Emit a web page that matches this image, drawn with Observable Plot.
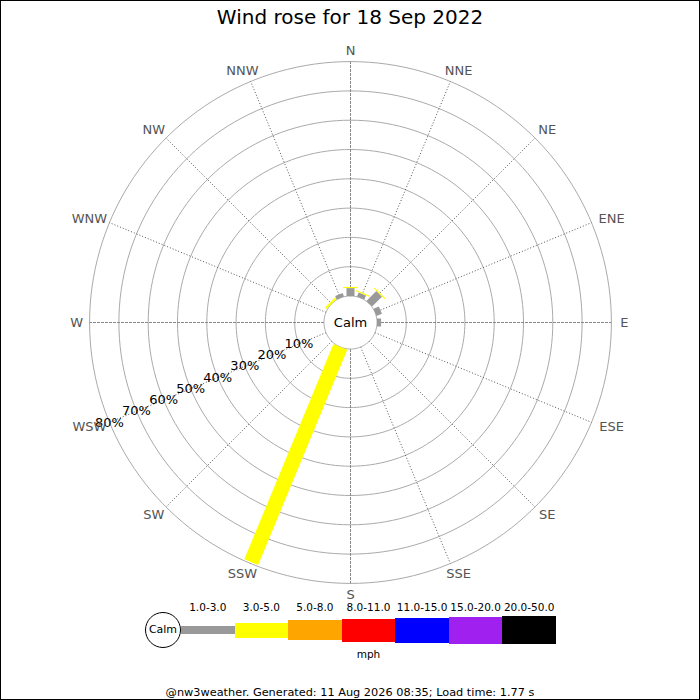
<!DOCTYPE html>
<html>
<head>
<meta charset="utf-8">
<script src="https://cdn.jsdelivr.net/npm/d3@7"></script>
<script src="https://cdn.jsdelivr.net/npm/@observablehq/plot@0.6"></script>
<style>
  html, body { margin: 0; padding: 0; background: #fff; }
  #wrap { position: relative; width: 700px; height: 700px; overflow: hidden; font-family: "DejaVu Sans", sans-serif; background: #fff; }
  #frame { position: absolute; left: 0; top: 0; width: 700px; height: 700px; box-sizing: border-box; border: 1px solid #000; pointer-events: none; }
  #title { position: absolute; left: 0; top: 4px; width: 700px; text-align: center; font-size: 20px; line-height: 26px; color: #000; }
  #chart { position: absolute; left: 0; top: 35px; }
  #chart svg { overflow: visible; }
  .lg { position: absolute; }
  .lgLabel { position: absolute; font-size: 10.5px; color: #000; text-align: center; line-height: 12px; }
  #footer { position: absolute; left: 0; width: 700px; top: 686px; text-align: center; font-size: 11.3px; line-height: 14px; color: #000; }
</style>
</head>
<body>
<div id="wrap">
  <div id="title"></div>
  <div id="chart"></div>
  <div id="legend"></div>
  <div id="footer"></div>
  <div id="frame"></div>
</div>
<script>
// ---- data ----
const title = "Wind rose for 18 Sep 2022";
const footer = "@nw3weather. Generated: 11 Aug 2026 08:35; Load time: 1.77 s";
const directions = ["N","NNE","NE","ENE","E","ESE","SE","SSE","S","SSW","SW","WSW","W","WNW","NW","NNW"];
const speedBins = ["1.0-3.0","3.0-5.0","5.0-8.0","8.0-11.0","11.0-15.0","15.0-20.0","20.0-50.0"];
const speedUnit = "mph";
const ringValues = [10, 20, 30, 40, 50, 60, 70, 80];
// percent of time per direction, per speed bin
const bin1to3   = [2.7, 1.5, 4.8, 2.0, 1.4, 0, 0, 0, 0, 0,    0, 0, 0, 0, 0,   1.3];
const bin3to5   = [0.4, 0.4, 0.4, 0,   0,   0, 0, 0, 0, 79.5, 0, 0, 0, 0, 0.7, 0];
const bin5to8   = [0,0,0,0,0,0,0,0,0,0,0,0,0,0,0,0];
const bin8to11  = [0,0,0,0,0,0,0,0,0,0,0,0,0,0,0,0];
const bin11to15 = [0,0,0,0,0,0,0,0,0,0,0,0,0,0,0,0];
const bin15to20 = [0,0,0,0,0,0,0,0,0,0,0,0,0,0,0,0];
const bin20to50 = [0,0,0,0,0,0,0,0,0,0,0,0,0,0,0,0];

// ---- styles ----
const binColors = ["#999999", "#ffff00", "#ffa500", "#ff0000", "#0000ff", "#a020f0", "#000000"];
const binWidths = [8, 15, 20, 23, 25, 27, 28];
const FONT = "DejaVu Sans";

const bins = [bin1to3, bin3to5, bin5to8, bin8to11, bin11to15, bin15to20, bin20to50];

// ---- geometry (in percent units) ----
const k = 2.93;              // px per percent
const calmU = 26.5 / k;      // calm circle radius in percent units
const maxU = calmU + d3.max(ringValues);
const labelU = maxU + 8.5 / k;   // label box edge sits just outside the outer ring
const W = 700, H = 580, cy = 287;
const rad = a => a * Math.PI / 180;
const px = (r, a) => r * Math.sin(rad(a));
const py = (r, a) => r * Math.cos(rad(a));
const angleOf = i => i * 360 / directions.length;
// push each label outward by half its box so the box edge, not its centre, is on the circle
const lblX = (d, i) => px(labelU, angleOf(i)) + Math.sin(rad(angleOf(i))) * d.length * 4.4 / k;
const lblY = (d, i) => py(labelU, angleOf(i)) + Math.cos(rad(angleOf(i))) * 2.5 / k;

// rings
const ringPts = ringValues.flatMap(v => d3.range(0, 361, 2).map(a => ({ring: v, x: px(calmU + v, a), y: py(calmU + v, a)})));
const calmPts = d3.range(0, 361, 2).map(a => ({x: px(calmU, a), y: py(calmU, a)}));

// spokes
const spokes = directions.map((d, i) => {
  const a = angleOf(i);
  return {d, cardinal: i % 4 === 0, x1: px(calmU, a), y1: py(calmU, a), x2: px(maxU, a), y2: py(maxU, a)};
});

// bar segments
const segs = [];
directions.forEach((d, i) => {
  const a = angleOf(i);
  let acc = 0;
  bins.forEach((arr, b) => {
    const v = arr[i];
    if (v > 0) {
      const r0 = calmU + acc, r1 = calmU + acc + v;
      segs.push({d, bin: speedBins[b], color: binColors[b], w: binWidths[b],
        x1: px(r0, a), y1: py(r0, a), x2: px(r1, a), y2: py(r1, a)});
      acc += v;
    }
  });
});

const labelAngle = 247.5;

const plot = Plot.plot({
  width: W, height: H,
  margin: 0,
  style: {fontFamily: FONT, background: "transparent"},
  x: {domain: [-W / 2 / k, W / 2 / k], range: [0, W], axis: null},
  y: {domain: [-(H - cy) / k, cy / k], range: [H, 0], axis: null},
  marks: [
    Plot.line(ringPts, {x: "x", y: "y", z: "ring", stroke: "#aaaaaa", strokeWidth: 1}),
    Plot.link(spokes.filter(s => !s.cardinal), {x1: "x1", y1: "y1", x2: "x2", y2: "y2", stroke: "#555", strokeWidth: 1, strokeDasharray: "1,2"}),
    Plot.link(spokes.filter(s => s.cardinal), {x1: "x1", y1: "y1", x2: "x2", y2: "y2", stroke: "#888", strokeWidth: 1, strokeDasharray: "3,1"}),
    Plot.line(calmPts, {x: "x", y: "y", fill: "#fff", stroke: "#aaaaaa", strokeWidth: 1, curve: "linear-closed"}),
    Plot.link(segs, {x1: "x1", y1: "y1", x2: "x2", y2: "y2", stroke: "color", strokeWidth: "w", strokeLinecap: "butt"}),
    Plot.text(["Calm"], {x: () => 0, y: () => 0, text: d => d, fontSize: 13, fill: "#000"}),
    Plot.text(ringValues, {x: v => px(calmU + v, labelAngle), y: v => py(calmU + v, labelAngle), text: v => v + "%", fontSize: 13, fill: "#000"}),
    Plot.text(directions, {x: lblX, y: lblY, text: d => d, fontSize: 13, fill: "#555"})
  ]
});
document.getElementById("chart").appendChild(plot);
document.getElementById("title").textContent = title;
document.getElementById("footer").textContent = footer;

// ---- legend ----
const lg = document.getElementById("legend");
const lgX0 = 181, lgX1 = 556, lgY = 630;
const segW = (lgX1 - lgX0) / speedBins.length;
speedBins.forEach((b, i) => {
  const bar = document.createElement("div");
  bar.className = "lg";
  bar.style.left = (lgX0 + i * segW) + "px";
  bar.style.width = (segW + 0.5) + "px";
  bar.style.top = (lgY - binWidths[i] / 2) + "px";
  bar.style.height = binWidths[i] + "px";
  bar.style.background = binColors[i];
  lg.appendChild(bar);
  const lab = document.createElement("div");
  lab.className = "lgLabel";
  lab.style.left = (lgX0 + i * segW - 10) + "px";
  lab.style.width = (segW + 20) + "px";
  lab.style.top = "601px";
  lab.textContent = b;
  lg.appendChild(lab);
});
const calm = document.createElement("div");
calm.className = "lg";
calm.style.left = (163 - 18) + "px";
calm.style.top = (lgY - 18) + "px";
calm.style.width = "34px";
calm.style.height = "34px";
calm.style.border = "1px solid #000";
calm.style.borderRadius = "50%";
calm.style.background = "#fff";
calm.style.fontSize = "11px";
calm.style.lineHeight = "34px";
calm.style.textAlign = "center";
calm.textContent = "Calm";
lg.appendChild(calm);
const unit = document.createElement("div");
unit.className = "lgLabel";
unit.style.left = (lgX0 + (lgX1 - lgX0) / 2 - 40) + "px";
unit.style.width = "80px";
unit.style.top = "648px";
unit.textContent = speedUnit;
lg.appendChild(unit);
</script>
</body>
</html>
